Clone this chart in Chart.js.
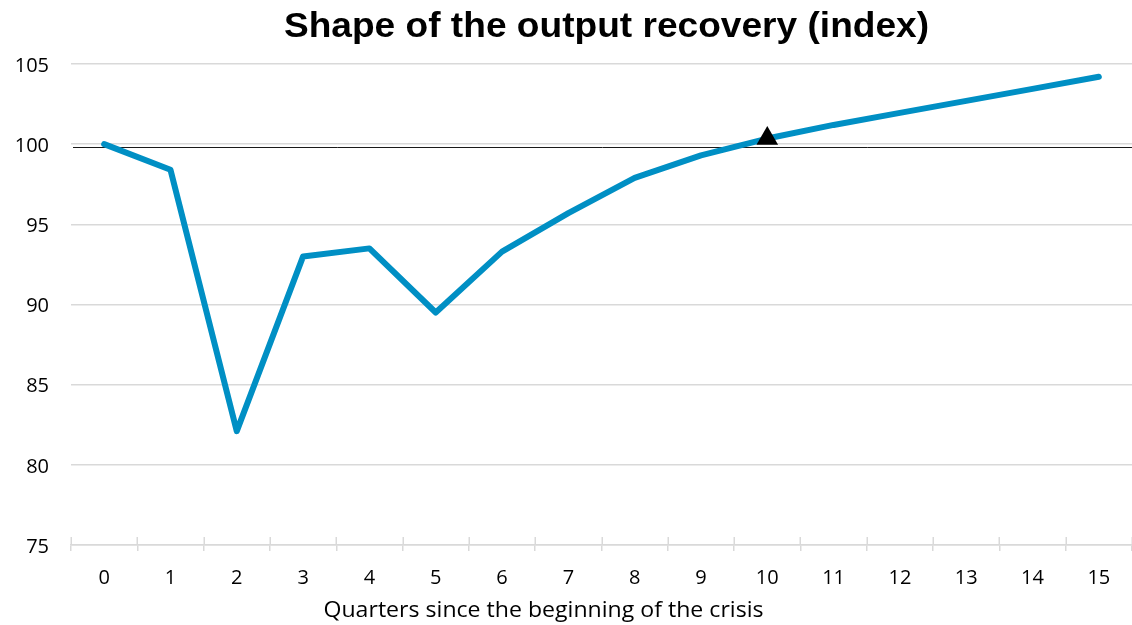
<!DOCTYPE html>
<html>
<head>
<meta charset="utf-8">
<title>Shape of the output recovery (index)</title>
<script src="https://cdn.jsdelivr.net/npm/chart.js@4.4.1/dist/chart.umd.min.js"></script>
<style>
  html, body { margin: 0; padding: 0; background: #fff; overflow: hidden; }
  #recoveryChart { display: block; }
</style>
</head>
<body>
<canvas id="recoveryChart" width="1132" height="625"></canvas>
<script>
// Chart data
const quarters = ["0", "1", "2", "3", "4", "5", "6", "7", "8", "9", "10", "11", "12", "13", "14", "15"];
const outputIndex = [100, 98.4, 82.1, 93.0, 93.5, 89.5, 93.3, 95.7, 97.9, 99.3, 100.35, 101.2, 101.95, 102.7, 103.45, 104.2];
const markerQuarter = 10;     // quarter where output is back above the pre-crisis level
const baselineLevel = 99.8;   // black reference line
const yTicks = [75, 80, 85, 90, 95, 100, 105];

const chartTitle = "Shape of the output recovery (index)";
const xAxisTitle = "Quarters since the beginning of the crisis";

const textFont = "'Open Sans', 'Liberation Sans', sans-serif";
const gridGrey = "#d9d9d9";

// Reference line + the small tick marks poking up above the bottom axis
const backdropPlugin = {
  id: "backdrop",
  beforeDatasetsDraw(chart) {
    const { ctx, chartArea, scales } = chart;
    ctx.save();

    // cross tick marks (upper half, the lower half comes from the x grid)
    ctx.strokeStyle = gridGrey;
    ctx.lineWidth = 1.5;
    ctx.beginPath();
    for (let i = 0; i <= quarters.length; i++) {
      const px = Math.round(scales.x.getPixelForValue(i - 0.5)) + 0.25;
      ctx.moveTo(px, chartArea.bottom);
      ctx.lineTo(px, chartArea.bottom - 8);
    }
    ctx.stroke();

    // black baseline
    const yLine = Math.round(scales.y.getPixelForValue(baselineLevel)) + 0.5;
    ctx.strokeStyle = "#1a1a1a";
    ctx.lineWidth = 1;
    ctx.beginPath();
    ctx.moveTo(chartArea.left + 2, yLine);
    ctx.lineTo(chartArea.right, yLine);
    ctx.stroke();
    ctx.restore();
  }
};

// Title and axis title, placed like the original (slightly widened text)
const captionPlugin = {
  id: "captions",
  afterDraw(chart) {
    const { ctx, chartArea } = chart;
    const midX = (chartArea.left + chartArea.right) / 2;

    ctx.save();
    ctx.fillStyle = "#000";
    ctx.textAlign = "center";
    ctx.textBaseline = "alphabetic";
    ctx.font = "bold 35px 'Liberation Sans', Arial, sans-serif";
    ctx.translate(midX + 5, 37);
    ctx.scale(1.06, 1);
    ctx.fillText(chartTitle, 0, 0);
    ctx.restore();

    ctx.save();
    ctx.fillStyle = "#000";
    ctx.textAlign = "center";
    ctx.textBaseline = "alphabetic";
    ctx.font = "21px " + textFont;
    ctx.translate(midX - 58, 617);
    ctx.scale(1.1, 1);
    ctx.fillText(xAxisTitle, 0, 0);
    ctx.restore();
  }
};

document.addEventListener("DOMContentLoaded", function () {
  const canvas = document.getElementById("recoveryChart");

  new Chart(canvas, {
    type: "line",
    data: {
      labels: quarters,
      datasets: [
        {
          label: "Output",
          data: outputIndex,
          borderColor: "#008fc4",
          backgroundColor: "#008fc4",
          borderWidth: 6,
          borderCapStyle: "round",
          borderJoinStyle: "round",
          pointRadius: 0,
          pointHoverRadius: 0,
          tension: 0,
          clip: false,
          order: 2,
        },
        {
          label: "Recovery",
          data: outputIndex.map((v, i) => (i === markerQuarter ? v : null)),
          showLine: false,
          pointStyle: "triangle",
          pointRadius: 12.5,
          pointHoverRadius: 12.5,
          backgroundColor: "#000",
          borderColor: "#000",
          borderWidth: 0,
          clip: false,
          order: 1,
        },
      ],
    },
    options: {
      responsive: false,
      animation: false,
      devicePixelRatio: 1,
      layout: {
        autoPadding: false,
        padding: { top: 64, right: 0, bottom: 0, left: 0 },
      },
      plugins: {
        legend: { display: false },
        tooltip: { enabled: false },
        title: { display: false },
      },
      scales: {
        x: {
          offset: true,
          afterFit: function (scale) {
            scale.height = 80;
            // plot runs right to the edge of the picture
            scale.paddingLeft = 0;
            scale.paddingRight = 0;
          },
          grid: {
            display: true,
            offset: true,
            drawOnChartArea: false,
            drawTicks: true,
            tickLength: 6,
            color: gridGrey,
            lineWidth: 1.5,
          },
          border: { display: true, color: gridGrey, width: 1.5 },
          ticks: {
            color: "#000",
            padding: 15,
            maxRotation: 0,
            autoSkip: false,
            font: { family: textFont, size: 20 },
          },
        },
        y: {
          min: yTicks[0],
          max: yTicks[yTicks.length - 1],
          afterFit: function (scale) {
            scale.width = 71;
          },
          grid: {
            color: gridGrey,
            lineWidth: 1.5,
            drawTicks: false,
          },
          border: { display: false },
          ticks: {
            stepSize: yTicks[1] - yTicks[0],
            color: "#000",
            padding: 22,
            labelOffset: 2,
            font: { family: textFont, size: 20 },
          },
        },
      },
    },
    plugins: [backdropPlugin, captionPlugin],
  });
});
</script>
</body>
</html>
